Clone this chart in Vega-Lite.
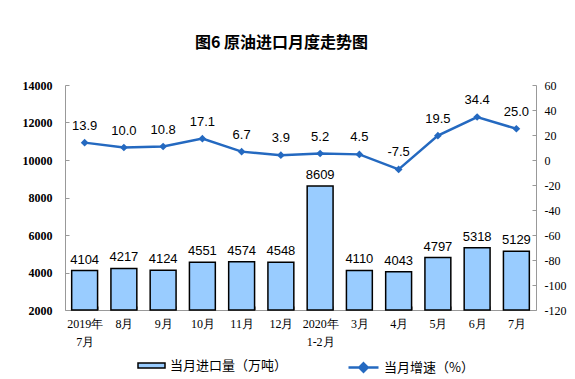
{
  "$schema": "https://vega.github.io/schema/vega-lite/v6.json",
  "autosize": "none",
  "width": 471,
  "height": 225,
  "padding": {"left": 65, "top": 85, "right": 39, "bottom": 69},
  "background": "white",
  "title": {
    "text": "图6 原油进口月度走势图",
    "font": "Noto Sans CJK SC",
    "fontSize": 16,
    "fontWeight": "bold",
    "color": "#000000",
    "anchor": "middle",
    "dx": -19,
    "offset": 28
  },
  "config": {
    "view": {"stroke": null},
    "locale": {"number": {"decimal": ".", "thousands": ",", "grouping": [3], "currency": ["$", ""], "minus": "-"}},
    "axis": {"grid": false, "domainColor": "#999999", "tickColor": "#999999", "labelColor": "#000000"}
  },
  "data": {
    "values": [
      {"month": "2019年 7月", "imports": 4104, "growth": 13.9},
      {"month": "8月", "imports": 4217, "growth": 10.0},
      {"month": "9月", "imports": 4124, "growth": 10.8},
      {"month": "10月", "imports": 4551, "growth": 17.1},
      {"month": "11月", "imports": 4574, "growth": 6.7},
      {"month": "12月", "imports": 4548, "growth": 3.9},
      {"month": "2020年 1-2月", "imports": 8609, "growth": 5.2},
      {"month": "3月", "imports": 4110, "growth": 4.5},
      {"month": "4月", "imports": 4043, "growth": -7.5},
      {"month": "5月", "imports": 4797, "growth": 19.5},
      {"month": "6月", "imports": 5318, "growth": 34.4},
      {"month": "7月", "imports": 5129, "growth": 25.0}
    ]
  },
  "encoding": {
    "x": {
      "field": "month", "type": "nominal", "sort": null, "title": null,
      "scale": {"paddingInner": 0.34, "paddingOuter": 0.17},
      "axis": {
        "labelAngle": 0, "labelExpr": "split(datum.label, ' ')",
        "labelFont": "Liberation Serif", "labelFontSize": 12, "labelLineHeight": 18,
        "tickBand": "extent", "tickSize": -4, "labelPadding": 12, "labelBaseline": "top"
      }
    }
  },
  "layer": [
    {
      "mark": {"type": "bar", "stroke": "#000000", "strokeWidth": 1.5},
      "encoding": {
        "y": {
          "field": "imports", "type": "quantitative", "title": null,
          "scale": {"domain": [2000, 14000], "zero": false, "nice": false},
          "axis": {"values": [2000, 4000, 6000, 8000, 10000, 12000, 14000], "orient": "left", "format": "d",
            "labelFont": "Liberation Serif", "labelFontSize": 12, "labelFontWeight": "bold",
            "tickSize": -4, "labelPadding": 17}
        },
        "y2": {"datum": 2000},
        "fill": {
          "datum": "当月进口量（万吨）",
          "scale": {"range": ["#99CCFF"]},
          "legend": {
            "title": null, "orient": "none", "legendX": 72, "legendY": 266, "padding": 0,
            "symbolType": "M-1,-0.18H1V0.18H-1Z", "symbolSize": 729,
            "symbolStrokeColor": "#000000", "symbolStrokeWidth": 1.5,
            "labelFont": "Noto Sans CJK SC", "labelFontSize": 13, "labelColor": "#000000",
            "labelOffset": 4
          }
        }
      }
    },
    {
      "mark": {"type": "text", "baseline": "bottom", "dy": -4, "font": "Liberation Sans", "fontSize": 13, "color": "#000000"},
      "encoding": {
        "y": {"field": "imports", "type": "quantitative", "scale": {"domain": [2000, 14000], "zero": false, "nice": false}, "axis": null},
        "text": {"field": "imports", "type": "quantitative", "format": "d"}
      }
    },
    {
      "layer": [
        {
          "mark": {"type": "line", "strokeWidth": 2.5},
          "encoding": {
            "stroke": {
              "datum": "当月增速（%）",
              "scale": {"range": ["#2469C0"]},
              "legend": {
                "title": null, "orient": "none", "legendX": 282, "legendY": 266, "padding": 0,
                "symbolType": "M-1,0H1M0,-0.28L0.28,0L0,0.28L-0.28,0Z", "symbolSize": 900,
                "symbolFillColor": "#2469C0", "symbolStrokeWidth": 2.5,
                "labelFont": "Noto Sans CJK SC", "labelFontSize": 13, "labelColor": "#000000",
                "labelOffset": 4
              }
            }
          }
        },
        {
          "mark": {"type": "point", "shape": "diamond", "filled": true, "size": 60, "color": "#2469C0", "opacity": 1}
        },
        {
          "mark": {"type": "text", "baseline": "bottom", "dy": -10, "font": "Liberation Sans", "fontSize": 13, "color": "#000000"},
          "encoding": {"text": {"field": "growth", "type": "quantitative", "format": ".1f"}}
        }
      ],
      "encoding": {
        "y": {
          "field": "growth", "type": "quantitative", "title": null,
          "scale": {"domain": [-120, 60], "nice": false, "zero": false},
          "axis": {"orient": "right", "values": [-120, -100, -80, -60, -40, -20, 0, 20, 40, 60], "format": "d",
            "labelFont": "Liberation Serif", "labelFontSize": 12, "tickSize": -4, "labelPadding": 12}
        }
      }
    }
  ],
  "resolve": {"scale": {"y": "independent"}}
}
